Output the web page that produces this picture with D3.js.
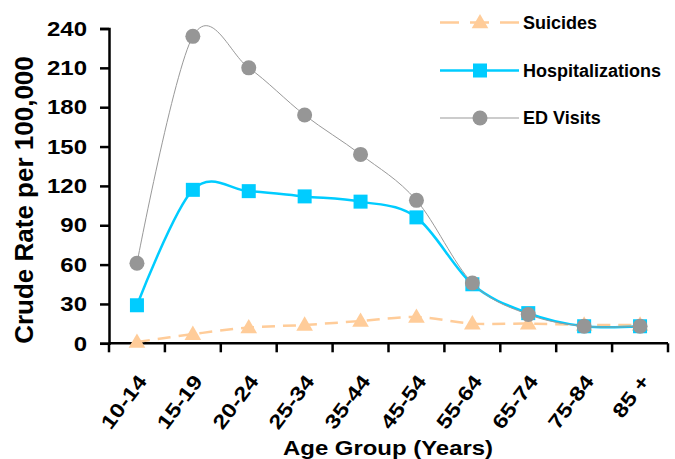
<!DOCTYPE html>
<html>
<head>
<meta charset="utf-8">
<script src="https://cdn.jsdelivr.net/npm/d3@7"></script>
<style>
  body { margin: 0; background: #fff; }
  svg { display: block; font-family: "Liberation Sans", Arial, sans-serif; font-weight: bold; }
</style>
</head>
<body>
<svg id="chart" width="675" height="459"></svg>
<script>
// Crude rates per 100,000 by age group
const ageGroups = ["10-14", "15-19", "20-24", "25-34", "35-44", "45-54", "55-64", "65-74", "75-84", "85 +"];
const suicides = [1, 7, 12, 14, 17, 20, 15, 15, 14, 14];
const hospitalizations = [29, 117, 116, 112, 108, 96, 45, 23, 13, 13];
const edVisits = [61, 234, 210, 174, 144, 109, 46, 22, 13, 13];
const yTicks = [0, 30, 60, 90, 120, 150, 180, 210, 240];

const svg = d3.select("#chart");
const plotLeft = 109, plotRight = 668, plotTop = 28.5, plotBottom = 343.3;
const wide = 1.2; // horizontal stretch of the axis lettering

const x = d3.scaleBand().domain(ageGroups).range([plotLeft, plotRight]).padding(0);
const y = d3.scaleLinear().domain([0, 240]).range([plotBottom, plotTop]);
const cx = d => x(d) + x.bandwidth() / 2;

// Y axis
const yAxis = svg.append("g").attr("transform", `translate(${plotLeft},0)`)
  .call(d3.axisLeft(y).tickValues(yTicks).tickSize(9).tickFormat(""));
yAxis.select(".domain").attr("stroke", "#000").attr("stroke-width", 2.5);
yAxis.selectAll(".tick line").attr("stroke", "#000").attr("stroke-width", 2.5);
svg.append("g").selectAll("text").data(yTicks).enter().append("text")
  .attr("transform", d => `translate(87,${y(d)}) scale(${wide},1)`)
  .attr("text-anchor", "end").attr("dy", "0.36em").attr("font-size", 20)
  .text(d => d);

// X axis: category boundaries carry the ticks
const xAxis = svg.append("g").attr("transform", `translate(0,${plotBottom})`);
xAxis.append("line").attr("x1", plotLeft).attr("x2", plotRight).attr("y1", 0).attr("y2", 0)
  .attr("stroke", "#000").attr("stroke-width", 2.5);
const bounds = ageGroups.map(d => x(d)).concat([plotRight]);
xAxis.selectAll("line.tk").data(bounds).enter().append("line").attr("class", "tk")
  .attr("x1", d => d).attr("x2", d => d).attr("y1", 0).attr("y2", 9)
  .attr("stroke", "#000").attr("stroke-width", 2.5);
xAxis.selectAll("text.lab").data(ageGroups).enter().append("text").attr("class", "lab")
  .attr("transform", d => `translate(${cx(d) + 5},${34}) rotate(-53) scale(${wide},1)`)
  .attr("text-anchor", "end").attr("dy", "0.36em")
  .attr("font-size", 20).text(d => d);

// Axis titles
svg.append("text").attr("transform", `translate(388,455) scale(1.14,1)`).attr("text-anchor", "middle")
  .attr("font-size", 21).text("Age Group (Years)");
svg.append("text").attr("transform", "translate(33,200) rotate(-90)")
  .attr("text-anchor", "middle").attr("font-size", 26).text("Crude Rate per 100,000");

const line = d3.line().x((d, i) => cx(ageGroups[i])).y(d => y(d)).curve(d3.curveCardinal.tension(0));

const series = [
  { name: "Suicides", values: suicides, color: "#FFCC99", width: 2.5, dash: "13,8", marker: "triangle" },
  { name: "Hospitalizations", values: hospitalizations, color: "#00CCFF", width: 2.5, dash: null, marker: "square" },
  { name: "ED Visits", values: edVisits, color: "#999999", width: 1, dash: null, marker: "circle", fill: "#969696" }
];

function drawMarker(g, type, color, px, py) {
  if (type === "circle") {
    g.append("circle").attr("cx", px).attr("cy", py).attr("r", 7.5).attr("fill", color);
  } else if (type === "square") {
    g.append("rect").attr("x", px - 7).attr("y", py - 7).attr("width", 14).attr("height", 14).attr("fill", color);
  } else {
    const s = d3.symbol().type(d3.symbolTriangle).size(120);
    g.append("path").attr("d", s()).attr("transform", `translate(${px},${py + 1})`).attr("fill", color);
  }
}

series.forEach(s => {
  const g = svg.append("g");
  g.append("path").attr("d", line(s.values)).attr("fill", "none")
    .attr("stroke", s.color).attr("stroke-width", s.width)
    .attr("stroke-dasharray", s.dash);
  s.values.forEach((v, i) => drawMarker(g, s.marker, s.fill || s.color, cx(ageGroups[i]), y(v)));
});

// Legend
const legendY = [22.5, 70.5, 118];
series.forEach((s, i) => {
  const g = svg.append("g");
  const ly = legendY[i];
  g.append("line").attr("x1", 440).attr("x2", 519).attr("y1", ly).attr("y2", ly)
    .attr("stroke", s.color).attr("stroke-width", s.width)
    .attr("stroke-dasharray", s.dash ? "19,11" : null);
  drawMarker(g, s.marker, s.fill || s.color, 480, ly);
  g.append("text").attr("x", 523).attr("y", ly).attr("dy", "0.36em")
    .attr("font-size", 18).text(s.name);
});
</script>
</body>
</html>
